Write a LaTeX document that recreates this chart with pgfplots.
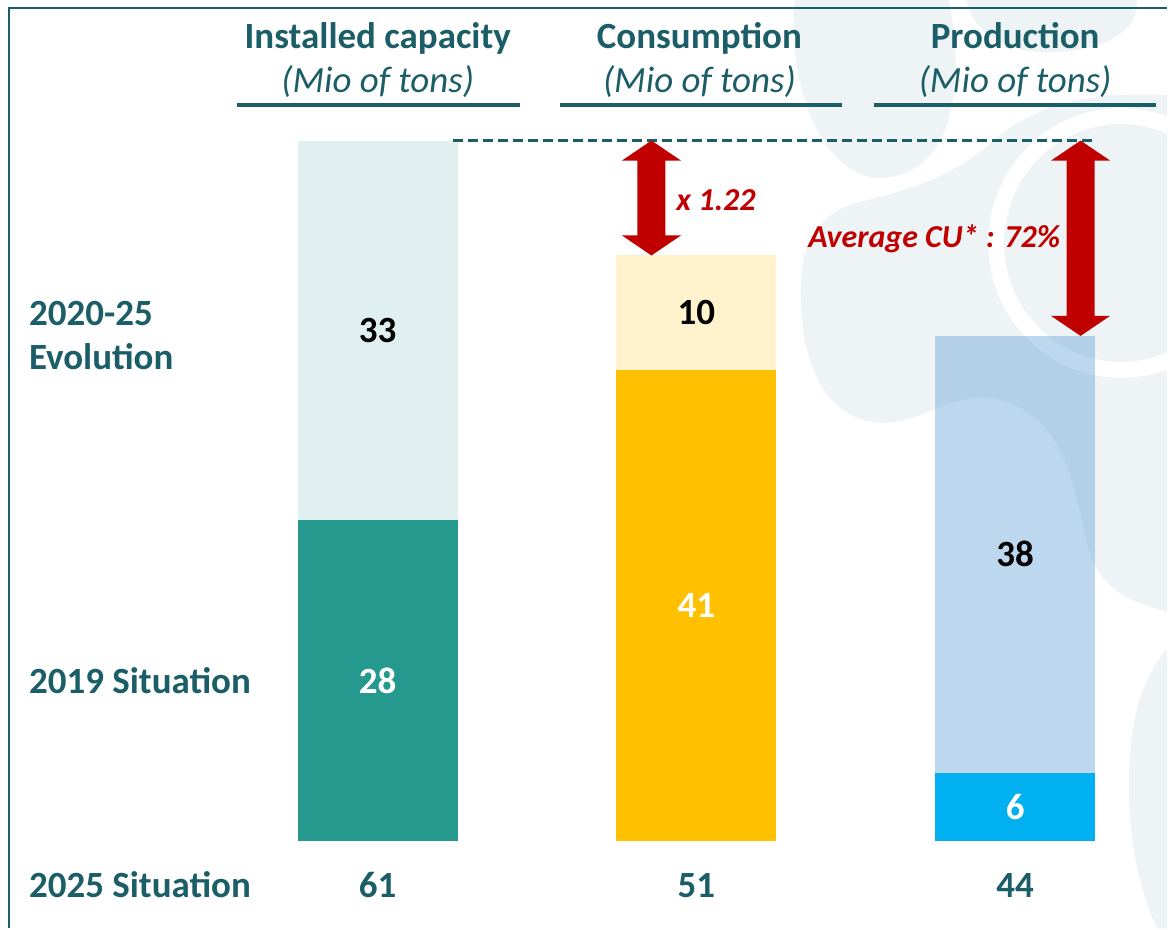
\documentclass[border=0pt]{standalone}
\usepackage{pgfplots}
\pgfplotsset{compat=1.18}
\usepackage{fontspec}
\setmainfont{Carlito}

\definecolor{tealD}{RGB}{27,94,103}
\definecolor{tealA}{RGB}{37,153,141}
\definecolor{tealL}{RGB}{224,240,240}
\definecolor{goldA}{RGB}{255,192,0}
\definecolor{goldL}{RGB}{255,242,204}
\definecolor{cyanA}{RGB}{0,176,240}
\definecolor{blueA}{RGB}{91,155,213}
\definecolor{redA}{RGB}{192,0,0}
\definecolor{blob}{RGB}{238,244,245}

% block arrow with two heads: x, top tip, bottom tip
\newcommand{\dblarrow}[3]{%
  \fill[redA] (#1,#2) -- (#1+29.5,#2+20) -- (#1+14,#2+20) -- (#1+14,#3-20)
    -- (#1+29.5,#3-20) -- (#1,#3) -- (#1-29.5,#3-20) -- (#1-14,#3-20)
    -- (#1-14,#2+20) -- (#1-29.5,#2+20) -- cycle;}

\begin{document}
\begin{tikzpicture}[
  big/.style={font=\bfseries\fontsize{18.5}{22}\selectfont, text=tealD},
  val/.style={font=\bfseries\fontsize{18.5}{22}\selectfont, anchor=center},
  px/.style={x=0.5pt, y=-0.5pt, yshift=464.5pt}]

% background shapes (pixel coordinates, origin top left)
\begin{scope}[px]
  \path[use as bounding box] (0,0) rectangle (1168,929);
  \fill[blob] (795,0) .. controls (788,110) and (835,178) .. (880,178)
     .. controls (935,178) and (972,120) .. (950,0) -- cycle;
  \fill[blob] (967,0) .. controls (975,40) and (1020,55) .. (1060,52)
     .. controls (1110,48) and (1140,30) .. (1138,0) -- cycle;
  \fill[blob] (802,310) .. controls (798,250) and (812,215) .. (860,202)
     .. controls (920,188) and (960,172) .. (995,140)
     .. controls (1040,100) and (1100,92) .. (1168,95)
     -- (1168,612) .. controls (1130,602) and (1098,590) .. (1087,540)
     .. controls (1072,470) and (1060,410) .. (990,398)
     .. controls (950,394) and (920,425) .. (880,423)
     .. controls (830,420) and (805,370) .. (802,310) -- cycle;
  \draw[white, line width=8pt] (1122,243) ellipse [x radius=125, y radius=127];
  \fill[blob] (1168,650) .. controls (1140,680) and (1128,730) .. (1130,800)
     .. controls (1132,860) and (1145,900) .. (1158,929) -- (1168,929) -- cycle;
\end{scope}

\begin{axis}[
  at={(0pt,43.5pt)}, anchor=south west,
  scale only axis, width=584pt, height=421pt,
  xmin=-1.18495, xmax=2.47649, ymin=0, ymax=73.2174,
  ybar stacked, bar width=80pt,
  axis line style={draw=none},
  ytick=\empty,
  xtick={0,1,2}, xticklabels={61,51,44},
  major tick length=0pt,
  xticklabel style={font=\bfseries\fontsize{18.5}{22}\selectfont, text=tealD,
    anchor=base, yshift=-28pt},
  clip=false,
]
% 2019 situation, then 2020-25 evolution, one pair per column
\addplot[fill=tealA, draw=none] coordinates {(0,28) (1,0) (2,0)};
\addplot[fill=tealL, draw=none] coordinates {(0,33) (1,0) (2,0)};
\addplot[fill=goldA, draw=none] coordinates {(0,0) (1,41) (2,0)};
\addplot[fill=goldL, draw=none] coordinates {(0,0) (1,10) (2,0)};
\addplot[fill=cyanA, draw=none] coordinates {(0,0) (1,0) (2,6)};
\addplot[fill=blueA, fill opacity=0.4, draw=none] coordinates {(0,0) (1,0) (2,38)};

\coordinate (a1) at (axis cs:0,14);
\coordinate (a2) at (axis cs:0,44.5);
\coordinate (b1) at (axis cs:1,20.5);
\coordinate (b2) at (axis cs:1,46);
\coordinate (c1) at (axis cs:2,3);
\coordinate (c2) at (axis cs:2,25);
\end{axis}

% segment values, drawn on top of the bars
\node[val, text=white] at (a1) {28};
\node[val] at (a2) {33};
\node[val, text=white] at (b1) {41};
\node[val] at (b2) {10};
\node[val, text=white] at (c1) {6};
\node[val] at (c2) {38};

\begin{scope}[px]
  % frame
  \draw[tealD, line width=1pt] (9,929) -- (9,8) -- (1168,8);
  % column headers
  \foreach \cx/\ttl in {378/Installed capacity, 700/Consumption, 1016/Production}{
    \node[big, anchor=base] at (\cx,48) {\ttl};
    \node[font=\itshape\fontsize{18.5}{22}\selectfont, text=tealD, anchor=base] at (\cx,92) {(Mio of tons)};
  }
  \draw[tealD, line width=2pt] (237,105) -- (520,105);
  \draw[tealD, line width=2pt] (560,105) -- (843,105);
  \draw[tealD, line width=2pt] (875,105) -- (1157,105);
  % row labels
  \node[big, anchor=base west] at (22,326) {2020-25};
  \node[big, anchor=base west] at (22,370) {Evolution};
  \node[big, anchor=base west] at (22,694) {2019 Situation};
  \node[big, anchor=base west] at (22,898) {2025 Situation};
  % reference line at installed capacity
  \draw[tealD, line width=1.8pt, dash pattern=on 5pt off 2.5pt] (453,140.5) -- (1097,140.5);
  % arrows
  \dblarrow{652}{140.5}{255.5}
  \dblarrow{1081.5}{140.5}{336}
  \node[font=\bfseries\itshape\fontsize{16}{19}\selectfont, text=redA, anchor=base west] at (670,210) {x 1.22};
  \node[font=\bfseries\itshape\fontsize{16}{19}\selectfont, text=redA, anchor=base west] at (802,248) {Average CU* : 72\%};
\end{scope}
\end{tikzpicture}
\end{document}
